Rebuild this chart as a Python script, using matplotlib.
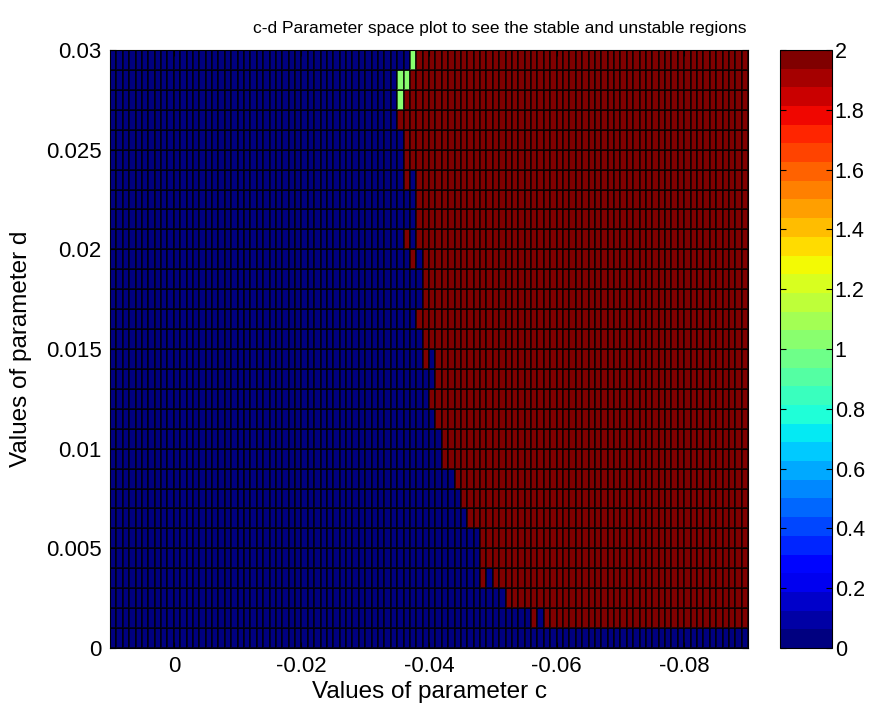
"""c-d parameter sweep: stable (0) / unstable (2) regions, drawn like a MATLAB pcolor."""
import numpy as np
import matplotlib
matplotlib.use("Agg")
import matplotlib.pyplot as plt

plt.rcParams["font.family"] = ["Liberation Sans", "DejaVu Sans"]

# parameter sweep (cell left edges): c from 0.01 down to -0.09, d from 0 to 0.03
C_START, C_STEP, N_C = 0.01, -0.001, 100
D_START, D_STEP, N_D = 0.0, 0.001, 30

# first c value (per d row, bottom -> top) at which the system turns unstable
# None = stable over the whole sweep
onset_c = [None, -0.058, -0.052, -0.050, -0.048, -0.048, -0.046, -0.045,
           -0.044, -0.042, -0.042, -0.041, -0.040, -0.041, -0.041, -0.039,
           -0.038, -0.039, -0.039, -0.039, -0.038, -0.038, -0.038, -0.038,
           -0.036, -0.036, -0.035, -0.036, -0.037, -0.038]

# isolated cells that break the pattern: (d, c, value)
odd_cells = [(0.001, -0.056, 2), (0.003, -0.048, 2), (0.014, -0.039, 2),
             (0.019, -0.037, 2), (0.020, -0.036, 2), (0.023, -0.036, 2),
             (0.027, -0.035, 1), (0.028, -0.035, 1), (0.028, -0.036, 1),
             (0.029, -0.037, 1)]

c_edges = C_START + C_STEP * np.arange(N_C + 1)
d_edges = D_START + D_STEP * np.arange(N_D + 1)


def c_idx(c):
    return int(round((c - C_START) / C_STEP))


def d_idx(d):
    return int(round((d - D_START) / D_STEP))


Z = np.zeros((N_D, N_C))
for k, c0 in enumerate(onset_c):
    if c0 is not None:
        Z[k, c_idx(c0):] = 2
for d, c, v in odd_cells:
    Z[d_idx(d), c_idx(c)] = v

fig = plt.figure(figsize=(8.69, 7.07), dpi=100)
ax = fig.add_axes([0.1266, 0.0835, 0.7342, 0.8458])
cax = fig.add_axes([0.8976, 0.0835, 0.0598, 0.8458])

cmap = plt.get_cmap("jet", 32)
mesh = ax.pcolormesh(c_edges, d_edges, Z, cmap=cmap, vmin=0, vmax=2,
                     edgecolors=(0, 0, 0, 0.65), linewidth=1.1)
ax.set_xlim(0.01, -0.09)
ax.set_ylim(0, 0.03)

xt = [0, -0.02, -0.04, -0.06, -0.08]
yt = [0, 0.005, 0.01, 0.015, 0.02, 0.025, 0.03]
ax.set_xticks(xt)
ax.set_xticklabels(["0", "-0.02", "-0.04", "-0.06", "-0.08"])
ax.set_yticks(yt)
ax.set_yticklabels(["0", "0.005", "0.01", "0.015", "0.02", "0.025", "0.03"])
ax.tick_params(direction="in", length=4, labelsize=16, pad=6,
               top=True, right=True)
ax.set_xlabel("Values of parameter c", fontsize=17.5, labelpad=3)
ax.set_ylabel("Values of parameter d", fontsize=17.5, labelpad=10)
ax.set_title("c-d Parameter space plot to see the stable and unstable regions",
             fontsize=12.5, x=0.611, pad=12)
for s in ax.spines.values():
    s.set_linewidth(0.8)

cb = fig.colorbar(mesh, cax=cax)
cb.set_ticks(np.round(np.arange(0, 2.01, 0.2), 1))
cb.set_ticklabels(["0", "0.2", "0.4", "0.6", "0.8", "1", "1.2", "1.4",
                   "1.6", "1.8", "2"])
cb.ax.tick_params(direction="in", length=4, labelsize=15.5, left=True,
                  right=True, pad=2)
cb.outline.set_linewidth(0.8)

fig.savefig("out.png", dpi=100)
